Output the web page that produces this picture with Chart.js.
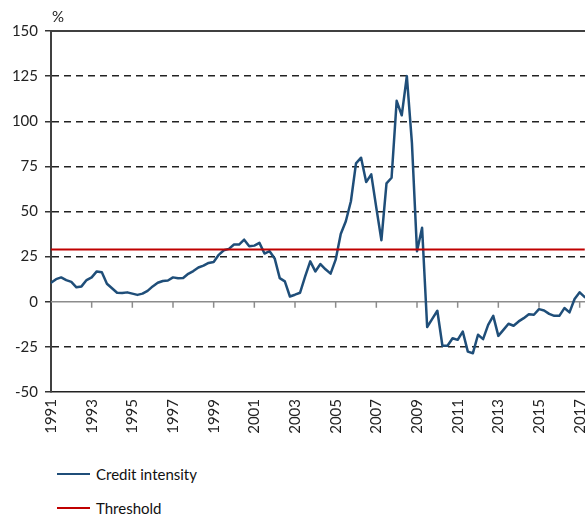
<!DOCTYPE html>
<html>
<head>
<meta charset="utf-8">
<script src="https://cdn.jsdelivr.net/npm/chart.js@4"></script>
<style>
  body { margin: 0; width: 585px; height: 515px; overflow: hidden; background: #fff; font-family: Lato, "Open Sans", sans-serif; }
  #wrap { position: relative; width: 600px; height: 515px; }
  #legend { position: absolute; left: 57px; top: 463px; font-size: 15px; color: #111; }
  .item { display: flex; align-items: center; height: 22px; margin-bottom: 12px; }
  .swatch { width: 33px; height: 2.5px; margin-right: 6px; }
</style>
</head>
<body>
<div id="wrap">
  <canvas id="myChart" width="600" height="440"></canvas>
  <div id="legend"></div>
</div>
<script>
// quarterly series, first point is 1991 Q1
const firstYear = 1991;
const creditIntensity = [
    10.5, 12.5, 13.5, 12, 11, 8, 8.5, 12, 13.5, 16.8,
    16.3, 10, 7.5, 5, 4.8, 5.2, 4.5, 3.8, 4.5, 6,
    8.5, 10.5, 11.5, 11.8, 13.5, 13, 13.2, 15.5, 17, 19,
    20, 21.5, 22, 26, 28.5, 29.3, 31.7, 31.7, 34.4, 30.7,
    31.1, 32.6, 26.7, 28, 24, 13.1, 11.3, 2.9, 3.9, 5,
    14, 22.4, 16.8, 20.9, 18, 15.6, 23.3, 37.5, 44.6, 55.7,
    76.7, 79.8, 66.3, 70.6, 52, 34.1, 65.6, 68.7, 111.3, 103.3,
    125, 88, 28, 41, -14, -9.5, -5, -24.4, -24.4, -20.2,
    -21.1, -16.5, -27.6, -28.5, -18.3, -20.7, -12.8, -7.8, -18.9, -15.6,
    -12.2, -13.3, -10.9, -9.1, -6.9, -7.2, -4.1, -4.8, -6.7, -7.8,
    -7.8, -3.5, -5.9, 1.5, 5.2, 2.6
];
const threshold = 29;
const yearTicks = [1991, 1993, 1995, 1997, 1999, 2001, 2003, 2005, 2007, 2009, 2011, 2013, 2015, 2017];
const yTicks = [-50, -25, 0, 25, 50, 75, 100, 125, 150];
const seriesNames = ["Credit intensity", "Threshold"];
const seriesColors = ["#1f4e79", "#c00000"];

const fontFamily = "Lato, 'Open Sans', sans-serif";

const creditPoints = creditIntensity.map((v, i) => ({ x: firstYear + i / 4, y: v }));
const lastX = firstYear + (creditIntensity.length - 1) / 4;
const thresholdPoints = [{ x: firstYear, y: threshold }, { x: lastX, y: threshold }];

// top frame line, zero axis line and its tick marks
const framePlugin = {
    id: 'frame',
    beforeDatasetsDraw(chart) {
        const ctx = chart.ctx;
        const area = chart.chartArea;
        const xs = chart.scales.x;
        const ys = chart.scales.y;
        const y0 = ys.getPixelForValue(0);
        ctx.save();
        ctx.strokeStyle = '#8c8c8c';
        ctx.lineWidth = 1.5;
        ctx.beginPath();
        ctx.moveTo(area.left, y0);
        ctx.lineTo(area.right, y0);
        xs.ticks.forEach(t => {
            const px = xs.getPixelForValue(t.value);
            if (px > area.left + 1) {
                ctx.moveTo(px, y0);
                ctx.lineTo(px, y0 + 6);
            }
        });
        ctx.stroke();
        ctx.strokeStyle = '#404040';
        ctx.lineWidth = 2;
        ctx.beginPath();
        ctx.moveTo(area.left, area.top);
        ctx.lineTo(area.right, area.top);
        ctx.stroke();
        ctx.fillStyle = '#222';
        ctx.font = '15px ' + fontFamily;
        ctx.textBaseline = 'alphabetic';
        ctx.fillText('%', area.left + 1, area.top - 9);
        ctx.restore();
    }
};

const data = {
    datasets: [{
        label: seriesNames[0],
        data: creditPoints,
        borderColor: seriesColors[0],
        borderWidth: 2.5,
        borderJoinStyle: 'round',
        borderCapStyle: 'round',
        pointRadius: 0,
        tension: 0,
        order: 2
    }, {
        label: seriesNames[1],
        data: thresholdPoints,
        borderColor: seriesColors[1],
        borderWidth: 2,
        pointRadius: 0,
        tension: 0,
        order: 1
    }]
};

const config = {
    type: 'line',
    data,
    options: {
        responsive: false,
        animation: false,
        layout: { padding: { top: 31, right: 0, left: 0, bottom: 0 } },
        plugins: {
            legend: { display: false },
            tooltip: { enabled: false }
        },
        scales: {
            x: {
                type: 'linear',
                min: firstYear,
                max: 2018,
                afterFit: s => { s.height = 48; s.paddingRight = 0; s.paddingLeft = 0; },
                afterBuildTicks: s => { s.ticks = yearTicks.map(v => ({ value: v })); },
                grid: { drawOnChartArea: false, drawTicks: false },
                border: { display: true, color: '#222', width: 1.5 },
                ticks: {
                    minRotation: 90,
                    maxRotation: 90,
                    autoSkip: false,
                    padding: 7,
                    color: '#222',
                    font: { family: fontFamily, size: 15 },
                    callback: v => String(v)
                }
            },
            y: {
                min: yTicks[0],
                max: yTicks[yTicks.length - 1],
                afterFit: s => { s.width = 51; },
                afterBuildTicks: s => { s.ticks = yTicks.map(v => ({ value: v })); },
                grid: {
                    color: c => (c.tick && (c.tick.value === 0 || c.tick.value === -50 || c.tick.value === 150)) ? 'rgba(0,0,0,0)' : '#222',
                    lineWidth: 1.5,
                    tickLength: 6,
                    tickColor: '#333',
                    tickWidth: 1.5
                },
                border: { display: true, color: '#404040', width: 2, dash: [7, 5] },
                ticks: {
                    padding: 7,
                    color: '#222',
                    font: { family: fontFamily, size: 15 }
                }
            }
        }
    },
    plugins: [framePlugin]
};

var myChart = new Chart(document.getElementById('myChart'), config);

let legendHTML = ``;
myChart.data.datasets.forEach(ds => {
    legendHTML += `<div class="item"><span class="swatch" style="background:${ds.borderColor}"></span><span>${ds.label}</span></div>`;
});
document.getElementById('legend').innerHTML = legendHTML;
</script>
</body>
</html>
